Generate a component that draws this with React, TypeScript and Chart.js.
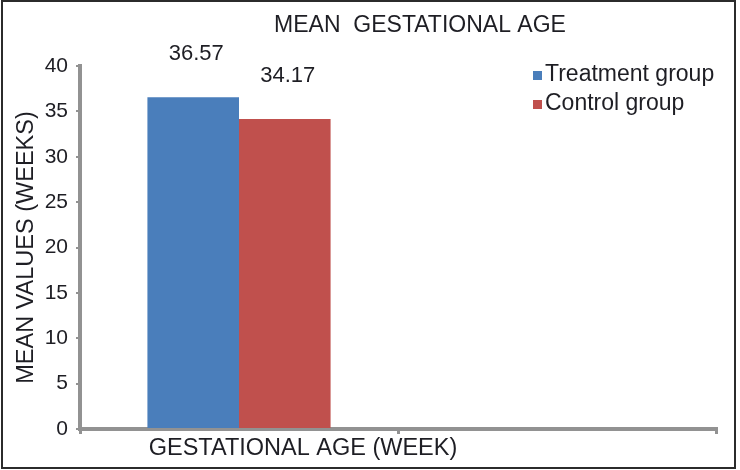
import React, { useEffect, useRef } from 'react';
import { Chart, registerables } from 'chart.js';

Chart.register(...registerables);

const categories: string[] = ['GESTATIONAL AGE (WEEK)', ''];
const seriesNames: string[] = ['Treatment group', 'Control group'];
const treatmentValues: (number | null)[] = [36.57, null];
const controlValues: (number | null)[] = [34.17, null];
const seriesColors: string[] = ['#4A7EBB', '#C0504D'];
const yMin = 0;
const yMax = 40;
const yStep = 5;
const chartTitle = 'MEAN  GESTATIONAL AGE';
const yAxisTitle = 'MEAN VALUES (WEEKS)';

const FONT = '"Liberation Sans", Arial, sans-serif';
const TEXT = '#1e1e24';
const AXIS = '#929292';

const decorPlugin = {
  id: 'decor',
  afterDatasetsDraw(chart: any) {
    const { ctx, chartArea } = chart;
    ctx.save();
    // data labels
    ctx.font = `22px ${FONT}`;
    ctx.fillStyle = TEXT;
    ctx.textAlign = 'center';
    ctx.textBaseline = 'middle';
    chart.data.datasets.forEach((ds: any, i: number) => {
      const meta = chart.getDatasetMeta(i);
      meta.data.forEach((el: any, j: number) => {
        const v = ds.data[j];
        if (v == null) return;
        ctx.fillText(Number(v).toFixed(2), el.x + 3, el.y - 43);
      });
    });
    // title
    ctx.font = `23px ${FONT}`;
    ctx.fillText(chartTitle, (chartArea.left + chartArea.right) / 2 + 22, chartArea.top - 40);
    // legend
    const lx = chartArea.right - 183;
    chart.data.datasets.forEach((ds: any, i: number) => {
      const cy = chartArea.top + 9 + i * 29;
      ctx.fillStyle = ds.backgroundColor;
      ctx.fillRect(lx, cy - 4, 9, 9);
      ctx.fillStyle = TEXT;
      ctx.textAlign = 'left';
      ctx.fillText(ds.label, lx + 12, cy);
    });
    ctx.restore();
  },
};

export default function App() {
  const ref = useRef<HTMLCanvasElement>(null);
  useEffect(() => {
    document.body.style.margin = '0';
    const chart = new Chart(ref.current as HTMLCanvasElement, {
      type: 'bar',
      data: {
        labels: categories,
        datasets: [
          { label: seriesNames[0], data: treatmentValues, backgroundColor: seriesColors[0] },
          { label: seriesNames[1], data: controlValues, backgroundColor: seriesColors[1] },
        ],
      },
      options: {
        animation: false,
        responsive: false,
        devicePixelRatio: 1,
        layout: { padding: { left: 4, top: 66, right: 24, bottom: 10 } },
        datasets: { bar: { categoryPercentage: 0.576, barPercentage: 1 } },
        plugins: {
          legend: { display: false },
          title: { display: false },
          tooltip: { enabled: false },
        },
        scales: {
          x: {
            offset: true,
            grid: {
              offset: true,
              drawOnChartArea: false,
              drawTicks: true,
              tickLength: 5,
              color: AXIS,
              lineWidth: 3,
            },
            border: { display: true, color: AXIS, width: 4 },
            ticks: {
              color: TEXT,
              font: { family: FONT, size: 23.5 },
              maxRotation: 0,
              autoSkip: false,
              labelOffset: 64,
              padding: 0,
            },
            afterFit: (scale: any) => {
              scale.height = 31;
            },
          },
          y: {
            min: yMin,
            max: yMax,
            grid: {
              drawOnChartArea: false,
              drawTicks: true,
              tickLength: 4,
              color: AXIS,
              lineWidth: 2,
            },
            border: { display: true, color: AXIS, width: 4 },
            ticks: {
              stepSize: yStep,
              color: TEXT,
              font: { family: FONT, size: 21 },
              padding: 8,
            },
            title: {
              display: true,
              text: yAxisTitle,
              color: TEXT,
              font: { family: FONT, size: 23.5 },
              padding: { top: 8, bottom: 0 },
            },
            afterFit: (scale: any) => {
              scale.width = 76;
            },
          },
        },
      },
      plugins: [decorPlugin],
    });
    return () => chart.destroy();
  }, []);

  return (
    <div style={{ position: 'relative', width: 740, height: 470, background: '#fff' }}>
      <canvas
        ref={ref}
        width={740}
        height={470}
        style={{ position: 'absolute', left: 0, top: 0, width: 740, height: 470, display: 'block' }}
      />
      <div
        style={{
          position: 'absolute',
          left: 1,
          top: 0,
          width: 735,
          height: 469,
          boxSizing: 'border-box',
          border: '2px solid #2b2b2b',
          pointerEvents: 'none',
        }}
      />
    </div>
  );
}
